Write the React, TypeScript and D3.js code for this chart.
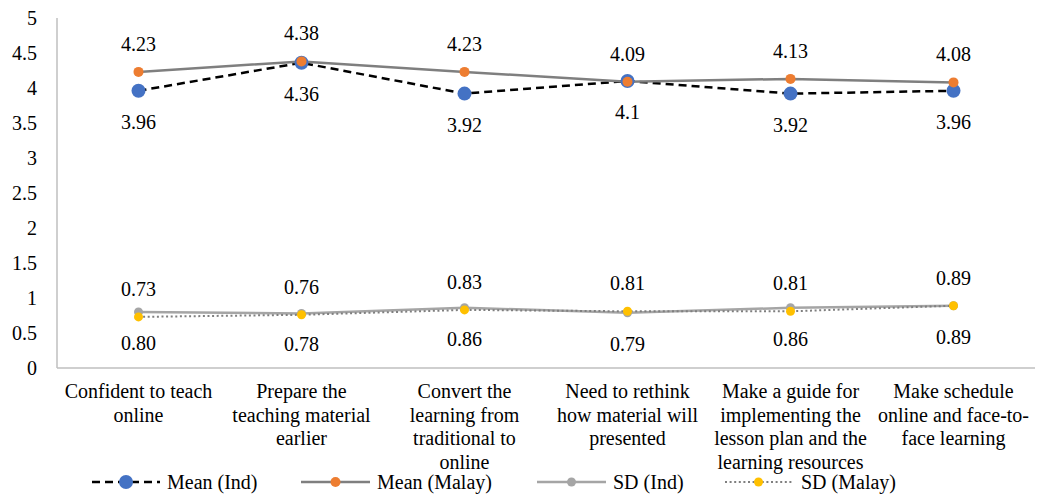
import React from "react";
import * as d3 from "d3";

const categories: string[][] = [
  ["Confident to teach", "online"],
  ["Prepare the", "teaching material", "earlier"],
  ["Convert the", "learning from", "traditional to", "online"],
  ["Need to rethink", "how material will", "presented"],
  ["Make a guide for", "implementing the", "lesson plan and the", "learning resources"],
  ["Make schedule", "online and face-to-", "face learning"],
];

const meanInd = [3.96, 4.36, 3.92, 4.1, 3.92, 3.96];
const meanMalay = [4.23, 4.38, 4.23, 4.09, 4.13, 4.08];
const sdInd = [0.8, 0.78, 0.86, 0.79, 0.86, 0.89];
const sdMalay = [0.73, 0.76, 0.83, 0.81, 0.81, 0.89];

const meanIndLabels = ["3.96", "4.36", "3.92", "4.1", "3.92", "3.96"];
const meanMalayLabels = ["4.23", "4.38", "4.23", "4.09", "4.13", "4.08"];
const sdIndLabels = ["0.80", "0.78", "0.86", "0.79", "0.86", "0.89"];
const sdMalayLabels = ["0.73", "0.76", "0.83", "0.81", "0.81", "0.89"];

const yTicks = [0, 0.5, 1, 1.5, 2, 2.5, 3, 3.5, 4, 4.5, 5];

const W = 1038;
const H = 496;
const left = 57;
const right = 1035;
const top = 18;
const bottom = 368;
const FONT = '"Liberation Serif", "Times New Roman", Times, "DejaVu Serif", serif';

type Series = {
  name: string;
  values: number[];
  labels: string[];
  labelPos: "above" | "below";
  stroke: string;
  width: number;
  dash?: string;
  marker: string;
  r: number;
};

const series: Series[] = [
  {
    name: "Mean (Ind)",
    values: meanInd,
    labels: meanIndLabels,
    labelPos: "below",
    stroke: "#000000",
    width: 2.5,
    dash: "8,5",
    marker: "#4472C4",
    r: 7,
  },
  {
    name: "Mean (Malay)",
    values: meanMalay,
    labels: meanMalayLabels,
    labelPos: "above",
    stroke: "#7f7f7f",
    width: 2.5,
    marker: "#ED7D31",
    r: 5,
  },
  {
    name: "SD (Ind)",
    values: sdInd,
    labels: sdIndLabels,
    labelPos: "below",
    stroke: "#a5a5a5",
    width: 2.5,
    marker: "#A5A5A5",
    r: 4.5,
  },
  {
    name: "SD (Malay)",
    values: sdMalay,
    labels: sdMalayLabels,
    labelPos: "above",
    stroke: "#7f7f7f",
    width: 2,
    dash: "2,2.6",
    marker: "#FFC000",
    r: 4.5,
  },
];

// Series drawn back-to-front so the Mean (Ind) dots sit under the orange ones
const drawOrder = [2, 3, 0, 1];

const legendItems = [
  { idx: 0, x0: 92, x1: 160, tx: 167 },
  { idx: 1, x0: 301, x1: 370, tx: 377 },
  { idx: 2, x0: 537, x1: 606, tx: 613 },
  { idx: 3, x0: 725, x1: 792, tx: 801 },
];

export default function App() {
  const x = d3
    .scaleBand<number>()
    .domain(d3.range(categories.length))
    .range([left, right]);
  const y = d3.scaleLinear().domain([0, 5]).range([bottom, top]);
  const cx = (i: number) => (x(i) as number) + x.bandwidth() / 2;
  const line = (vals: number[]) =>
    d3
      .line<number>()
      .x((_, i) => cx(i))
      .y((v) => y(v))(vals) as string;

  const textStyle = { fontFamily: FONT, fontSize: "20px" };

  return (
    <svg
      width={W}
      height={H}
      style={{ position: "absolute", left: 0, top: 0, background: "#fff", fontFamily: FONT }}
    >
      {/* y tick labels */}
      {yTicks.map((t) => (
        <text
          key={t}
          x={37}
          y={y(t)}
          dy="0.33em"
          textAnchor="end"
          style={textStyle}
          fill="#000"
        >
          {t}
        </text>
      ))}

      {/* axes */}
      <line x1={left} x2={left} y1={top} y2={bottom} stroke="#bfbfbf" strokeWidth={1.5} />
      <line x1={left} x2={right} y1={bottom} y2={bottom} stroke="#bfbfbf" strokeWidth={1.5} />

      {/* category labels */}
      {categories.map((lines, i) => (
        <text key={i} x={cx(i)} textAnchor="middle" style={textStyle} fill="#000">
          {lines.map((l, j) => (
            <tspan key={j} x={cx(i)} y={398 + j * 23.5}>
              {l}
            </tspan>
          ))}
        </text>
      ))}

      {/* lines */}
      {drawOrder.map((k) => {
        const s = series[k];
        return (
          <path
            key={s.name}
            d={line(s.values)}
            fill="none"
            stroke={s.stroke}
            strokeWidth={s.width}
            strokeDasharray={s.dash}
          />
        );
      })}

      {/* markers */}
      {drawOrder.map((k) => {
        const s = series[k];
        return (
          <g key={s.name}>
            {s.values.map((v, i) => (
              <circle key={i} cx={cx(i)} cy={y(v)} r={s.r} fill={s.marker} />
            ))}
          </g>
        );
      })}

      {/* data labels */}
      {series.map((s) => (
        <g key={s.name}>
          {s.values.map((v, i) => (
            <text
              key={i}
              x={cx(i)}
              y={y(v) + (s.labelPos === "above" ? -21 : 38)}
              textAnchor="middle"
              style={textStyle}
              fill="#000"
            >
              {s.labels[i]}
            </text>
          ))}
        </g>
      ))}

      {/* legend */}
      {legendItems.map((it) => {
        const s = series[it.idx];
        const ly = 482;
        return (
          <g key={s.name}>
            <line
              x1={it.x0}
              x2={it.x1}
              y1={ly}
              y2={ly}
              stroke={s.stroke}
              strokeWidth={s.width}
              strokeDasharray={s.dash}
            />
            <circle cx={(it.x0 + it.x1) / 2} cy={ly} r={s.r} fill={s.marker} />
            <text x={it.tx} y={ly} dy="0.33em" style={textStyle} fill="#000">
              {s.name}
            </text>
          </g>
        );
      })}
    </svg>
  );
}
